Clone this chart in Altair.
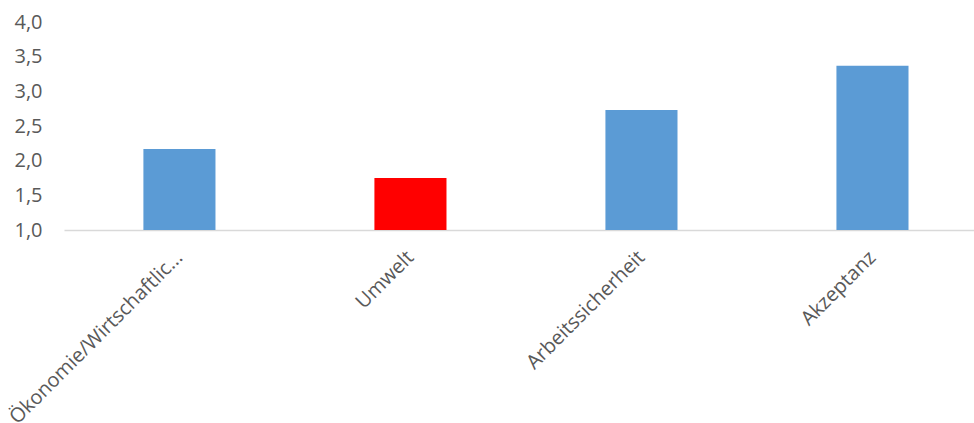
import altair as alt
import pandas as pd

categories = ["Ökonomie/Wirtschaftlic...", "Umwelt", "Arbeitssicherheit", "Akzeptanz"]
values = [2.17, 1.75, 2.73, 3.37]
bar_colors = ["#5B9BD5", "#FF0000", "#5B9BD5", "#5B9BD5"]
y_ticks = [1.0, 1.5, 2.0, 2.5, 3.0, 3.5, 4.0]

df = pd.DataFrame({"Kategorie": categories, "Wert": values, "Farbe": bar_colors})

FONT = "Open Sans"
LABEL_COLOR = "#595959"

chart = alt.Chart(df).mark_bar().encode(
    x=alt.X(
        "Kategorie:N",
        sort=categories,
        scale=alt.Scale(paddingInner=0.688, paddingOuter=0.3136, align=0.548),
        axis=alt.Axis(
            title=None,
            labelAngle=-45,
            labelFont=FONT,
            labelFontSize=20,
            labelColor=LABEL_COLOR,
            labelLimit=400,
            labelPadding=17,
            labelOffset=-7,
            ticks=False,
            domainColor="#D9D9D9",
            domainWidth=1.5,
            grid=False,
        ),
    ),
    y=alt.Y(
        "Wert:Q",
        scale=alt.Scale(domain=[1, 4], nice=False, zero=False),
        axis=alt.Axis(
            title=None,
            values=y_ticks,
            labelExpr="replace(format(datum.value, '.1f'), '.', ',')",
            labelFont=FONT,
            labelFontSize=20,
            labelColor=LABEL_COLOR,
            labelPadding=22,
            ticks=False,
            domain=False,
            grid=False,
        ),
    ),
    y2=alt.datum(1),
    color=alt.Color("Farbe:N", scale=None, legend=None),
).properties(
    width=910,
    height=208,
    background="white",
    autosize=alt.AutoSizeParams(type="none"),
    padding={"left": 64, "top": 22, "right": 0, "bottom": 193},
).configure_view(stroke=None, strokeWidth=0)

chart.save("out.html", embed_options={"renderer": "svg", "actions": False})
